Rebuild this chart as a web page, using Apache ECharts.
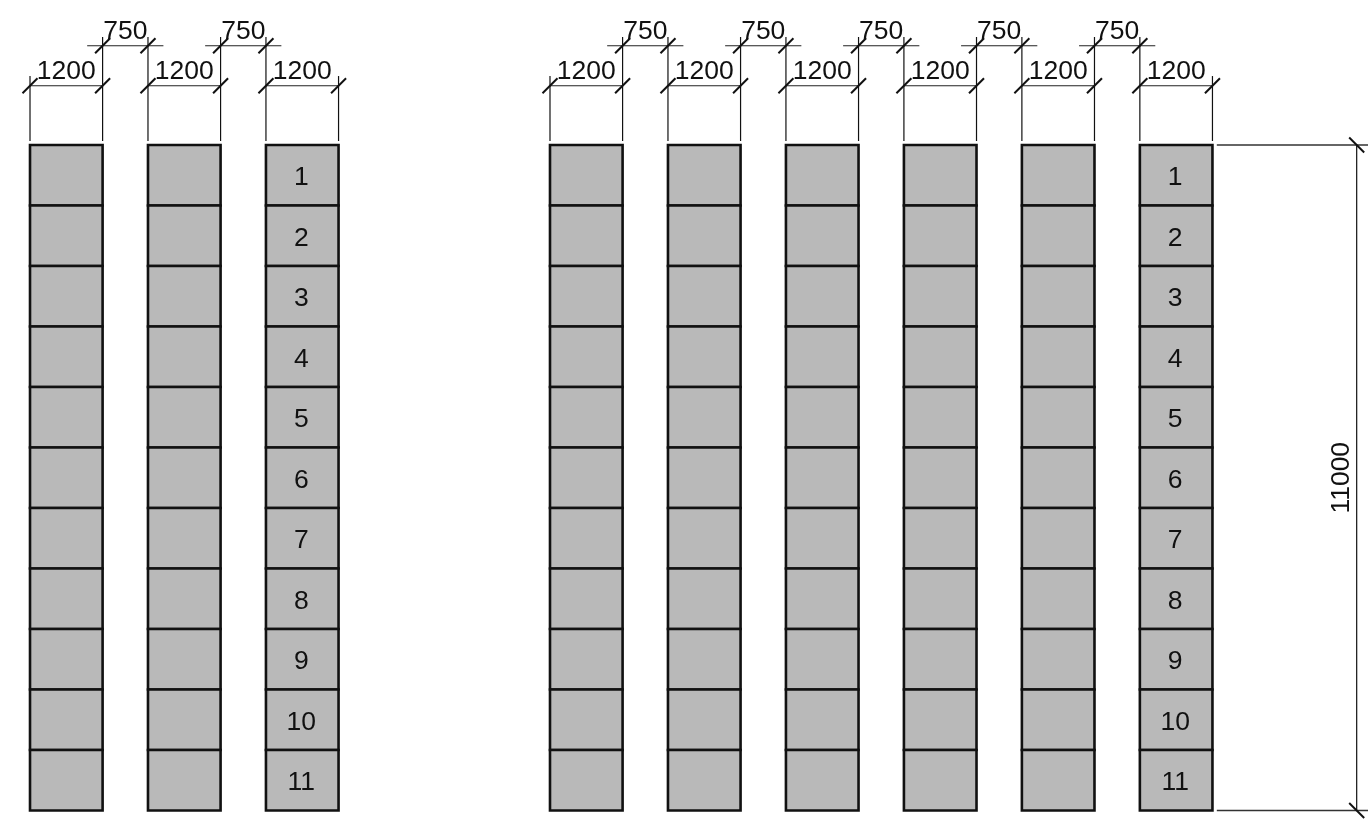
<!DOCTYPE html>
<html><head><meta charset="utf-8">
<style>html,body{margin:0;padding:0;background:#fff}#c{width:1368px;height:831px}</style>
<script src="https://cdn.jsdelivr.net/npm/echarts@6/dist/echarts.min.js"></script>
</head><body><div id="c"></div>
<script>
// All values in millimetres, as dimensioned on the drawing
const columnWidth = 1200;
const columnGap = 750;
const stackHeight = 11000;
const rowHeight = 1000;
const groupStarts = [0, 8595];
const groupColumnCounts = [3, 6];
const rowLabels = ['1','2','3','4','5','6','7','8','9','10','11'];
const rightDimensionX = 21929;
const rightExtensionStart = 19617;
const dimRowNear = -980;   // level of the 1200 dimension
const dimRowFar = -1641;   // level of the 750 dimension
const extBottom = -66;
const extTopNear = -1140;
const extTopFar = -1785;
const overrun = 255;       // overrun of the 750 dimension line

const xRange = [-496, 22116];
const yRange = [-2397, 11339];

const columns = [];        // [x, isLastOfGroup, groupIndex, columnIndex]
groupStarts.forEach((g, gi) => {
  for (let c = 0; c < groupColumnCounts[gi]; c++) {
    columns.push([g + c * (columnWidth + columnGap), c === groupColumnCounts[gi] - 1 ? 1 : 0, gi, c]);
  }
});
const cells = [];
columns.forEach(col => {
  rowLabels.forEach((lab, r) => cells.push([col[0], r * rowHeight, col[1] ? lab : '']));
});
const lineSegs = [];       // [x1,y1,x2,y2,width,colour]
const ticks = [];          // [x,y,direction]
const dimTexts = [];       // [x,y,text,rotated]
columns.forEach(col => {
  const x = col[0], last = col[1], first = col[3] === 0;
  lineSegs.push([x, first ? extTopNear : extTopFar, x, extBottom, 1.2, '#111']);
  lineSegs.push([x + columnWidth, last ? extTopNear : extTopFar, x + columnWidth, extBottom, 1.2, '#111']);
  lineSegs.push([x, dimRowNear, x + columnWidth, dimRowNear, 1.1, '#222']);
  ticks.push([x, dimRowNear, 1], [x + columnWidth, dimRowNear, 1]);
  dimTexts.push([x + columnWidth / 2, dimRowNear, String(columnWidth), 0]);
  if (!last) {
    const a = x + columnWidth, b = a + columnGap;
    lineSegs.push([a - overrun, dimRowFar, b + overrun, dimRowFar, 1.1, '#222']);
    ticks.push([a, dimRowFar, 1], [b, dimRowFar, 1]);
    dimTexts.push([(a + b) / 2, dimRowFar, String(columnGap), 0]);
  }
});
lineSegs.push([rightExtensionStart, 0, xRange[1], 0, 1.4, '#333']);
lineSegs.push([rightExtensionStart, stackHeight, xRange[1], stackHeight, 1.4, '#333']);
lineSegs.push([rightDimensionX, 0, rightDimensionX, stackHeight, 1.2, '#111']);
ticks.push([rightDimensionX, 0, -1], [rightDimensionX, stackHeight, -1]);
dimTexts.push([rightDimensionX, stackHeight / 2, String(stackHeight), 1]);

const FONT = '26.5px "Liberation Sans", Arial, sans-serif';

const chart = echarts.init(document.getElementById('c'), null, {renderer: 'canvas'});
chart.setOption({
  animation: false,
  backgroundColor: '#fff',
  grid: {left: 0, top: 0, width: 1368, height: 831, containLabel: false},
  xAxis: {type: 'value', min: xRange[0], max: xRange[1], show: false},
  yAxis: {type: 'value', min: yRange[0], max: yRange[1], inverse: true, show: false},
  tooltip: {show: false},
  series: [
    {
      type: 'custom', silent: true, clip: false, z: 2,
      data: cells.map(c => [c[0], c[1]]),
      renderItem(p, api) {
        const a = api.coord([api.value(0), api.value(1)]);
        const b = api.coord([api.value(0) + columnWidth, api.value(1) + rowHeight]);
        return {
          type: 'group',
          children: [{
            type: 'rect',
            shape: {x: a[0], y: a[1], width: b[0] - a[0], height: b[1] - a[1]},
            style: {fill: '#b9b9b9', stroke: '#111', lineWidth: 2.6}
          }, {
            type: 'text', z2: 5,
            style: {
              x: (a[0] + b[0]) / 2 - 1, y: (a[1] + b[1]) / 2 + 2.5,
              text: cells[p.dataIndex][2], font: FONT, fill: '#111',
              textAlign: 'center', textVerticalAlign: 'middle'
            }
          }]
        };
      }
    },
    {
      type: 'custom', silent: true, clip: false, z: 1,
      data: lineSegs.map(s => s.slice(0, 4)),
      renderItem(p, api) {
        const a = api.coord([api.value(0), api.value(1)]);
        const b = api.coord([api.value(2), api.value(3)]);
        const s = lineSegs[p.dataIndex];
        return {type: 'line', shape: {x1: a[0], y1: a[1], x2: b[0], y2: b[1]},
          style: {stroke: s[5], lineWidth: s[4]}};
      }
    },
    {
      type: 'custom', silent: true, clip: false, z: 3,
      data: ticks,
      renderItem(p, api) {
        const a = api.coord([api.value(0), api.value(1)]);
        const d = api.value(2);
        return {type: 'line', shape: {x1: a[0] - 7.5, y1: a[1] + d * 7.5, x2: a[0] + 7.5, y2: a[1] - d * 7.5},
          style: {stroke: '#111', lineWidth: 2}};
      }
    },
    {
      type: 'custom', silent: true, clip: false, z: 4,
      data: dimTexts.map(t => [t[0], t[1], t[3]]),
      renderItem(p, api) {
        const a = api.coord([api.value(0), api.value(1)]);
        const rotated = api.value(2) === 1;
        return {
          type: 'text',
          x: rotated ? a[0] - 14.5 : a[0],
          y: rotated ? a[1] : a[1] - 14.5,
          rotation: rotated ? Math.PI / 2 : 0,
          style: {text: dimTexts[p.dataIndex][2], font: FONT, fill: '#111',
            textAlign: 'center', textVerticalAlign: 'middle'}
        };
      }
    }
  ]
});
</script></body></html>
